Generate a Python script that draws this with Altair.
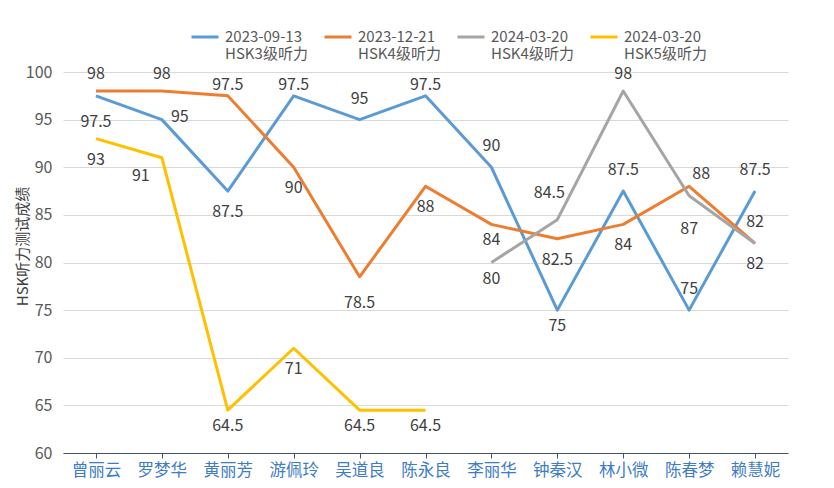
import altair as alt
import pandas as pd

FONT = "Noto Sans CJK SC"

students = ["曾丽云", "罗梦华", "黄丽芳", "游佩玲", "吴道良", "陈永良",
            "李丽华", "钟秦汉", "林小微", "陈春梦", "赖慧妮"]

series_names = ["2023-09-13|HSK3级听力", "2023-12-21|HSK4级听力",
                "2024-03-20|HSK4级听力", "2024-03-20|HSK5级听力"]
series_colors = ["#5B9BD5", "#ED7D31", "#A5A5A5", "#FFC000"]

score_hsk3_2023_09 = [97.5, 95, 87.5, 97.5, 95, 97.5, 90, 75, 87.5, 75, 87.5]
score_hsk4_2023_12 = [98, 98, 97.5, 90, 78.5, 88, 84, 82.5, 84, 88, 82]
score_hsk4_2024_03 = [None, None, None, None, None, None, 80, 84.5, 98, 87, 82]
score_hsk5_2024_03 = [93, 91, 64.5, 71, 64.5, 64.5, None, None, None, None, None]

# data-label placement keywords (per point)
pos_hsk3_2023_09 = ["below_far", "right", "below", "above_near", "above", "above_near",
                    "above", "below_near", "above", "above", "above"]
pos_hsk4_2023_12 = ["above_mid", "above_mid", "above_near", "below", "below_far", "below",
                    "below_near", "below", "below", "above_right", "above"]
pos_hsk4_2024_03 = [None] * 6 + ["below_near", "above_left", "above_mid", "below_farther", "below"]
pos_hsk5_2024_03 = ["below", "below_left", "below_near", "below", "below_near", "below_near"] + [None] * 5

placements = {
    "above": (0, -21),
    "above_mid": (0, -17),
    "above_near": (0, -11),
    "below_near": (0, 16),
    "below": (0, 21),
    "below_far": (0, 26),
    "below_farther": (0, 33),
    "right": (18, -3),
    "above_right": (12, -12),
    "above_left": (-8, -27),
    "below_left": (-21, 18),
}

all_scores = [score_hsk3_2023_09, score_hsk4_2023_12, score_hsk4_2024_03, score_hsk5_2024_03]
all_pos = [pos_hsk3_2023_09, pos_hsk4_2023_12, pos_hsk4_2024_03, pos_hsk5_2024_03]

rows = []
for s_name, scores, poss in zip(series_names, all_scores, all_pos):
    for i, (stu, v, p) in enumerate(zip(students, scores, poss)):
        if v is None:
            continue
        rows.append({"student": stu, "idx": i, "series": s_name, "score": v,
                     "label": f"{v:g}", "pos": p})
df = pd.DataFrame(rows)

x_enc = alt.X("student:N", sort=students,
              scale=alt.Scale(type="point", padding=0.5),
              axis=alt.Axis(title=None, labelAngle=0, labelFont=FONT, labelFontSize=16.5,
                            labelColor="#3D7CC6", domainColor="#44546A", tickColor="#44546A",
                            tickSize=5, labelPadding=4, grid=False, domainWidth=1.2))
y_enc = alt.Y("score:Q", scale=alt.Scale(domain=[60, 100], nice=False, zero=False),
              axis=alt.Axis(title="HSK听力测试成绩", values=list(range(60, 101, 5)),
                            domain=False, ticks=False, labelFont=FONT, labelFontSize=16,
                            labelColor="#595959", labelPadding=11, gridColor="#D9D9D9",
                            titleFont=FONT, titleFontSize=15, titleFontWeight="normal",
                            titleColor="#404040", titleX=-41, titleY=174,
                            titleAlign="center", titleBaseline="middle", titleAngle=270))

base = alt.Chart(df)

lines = base.mark_line(strokeWidth=3, strokeJoin="round").encode(
    x=x_enc, y=y_enc,
    color=alt.Color("series:N",
                    scale=alt.Scale(domain=series_names, range=series_colors),
                    legend=alt.Legend(title=None, orient="none", legendX=127, legendY=-50,
                                      direction="horizontal", symbolType="stroke",
                                      symbolStrokeWidth=3, symbolSize=729,
                                      labelExpr="split(datum.label, '|')",
                                      labelFont=FONT, labelFontSize=15, labelColor="#595959",
                                      labelLimit=0, labelOffset=5, columnPadding=10,
                                      padding=0)),
    order=alt.Order("idx:Q"),
)

text_layers = []
for name, (dx, dy) in placements.items():
    text_layers.append(
        base.transform_filter(alt.datum.pos == name)
        .mark_text(dx=dx, dy=dy, font=FONT, fontSize=16, color="#404040")
        .encode(x=x_enc, y=y_enc, text="label:N")
    )

chart = alt.layer(lines, *text_layers).properties(
    width=725, height=381,
    padding={"left": 55, "top": 64, "right": 38, "bottom": 27},
    autosize=alt.AutoSizeParams(type="none"),
    background="white",
).configure_view(stroke=None)

chart.save("out.html", embed_options={"renderer": "svg", "actions": False})
